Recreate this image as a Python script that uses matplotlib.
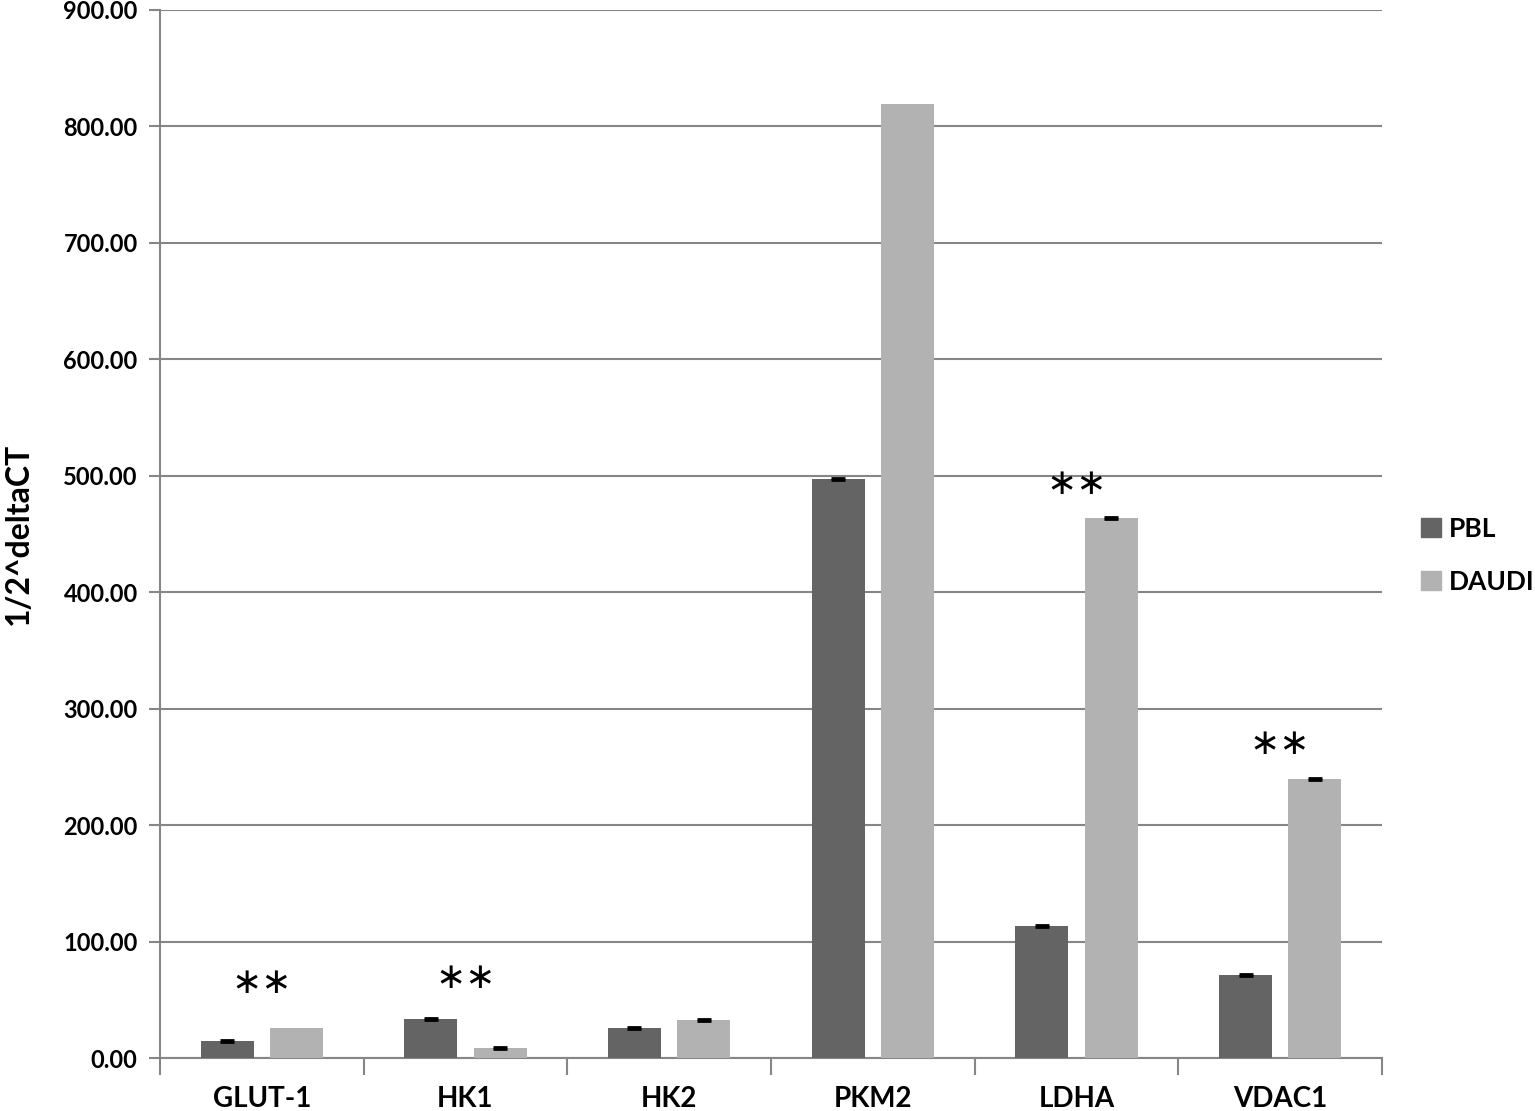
import matplotlib
matplotlib.use("Agg")
import matplotlib.pyplot as plt
import numpy as np
from matplotlib.patches import Patch

categories = ["GLUT-1", "HK1", "HK2", "PKM2", "LDHA", "VDAC1"]
pbl = [14.6, 33.5, 25.8, 497.0, 113.4, 71.3]
daudi = [26.0, 8.6, 32.6, 819.0, 463.8, 239.6]
pbl_err = [0.8, 0.8, 0.8, 0.8, 0.8, 0.8]
daudi_err = [0.0, 0.8, 0.8, 0.0, 0.8, 0.8]
sig_groups = [0, 1, 4, 5]
sig_y = [64, 69, 493, 270]
yticks = [0, 100, 200, 300, 400, 500, 600, 700, 800, 900]

plt.rcParams['font.family'] = ['Lato', 'DejaVu Sans']

fig = plt.figure(figsize=(15.35, 11.11), dpi=100)
ax = fig.add_axes([0.1042, 0.0477, 0.7961, 0.9433])

x = np.arange(len(categories))
w = 0.26
off = 0.17
c1, c2 = "#646464", "#b2b2b2"
ax.bar(x - off, pbl, w, color=c1, zorder=3)
ax.bar(x + off, daudi, w, color=c2, zorder=3)

for xs, vals, errs in [(x - off, pbl, pbl_err), (x + off, daudi, daudi_err)]:
    m = np.array(errs) > 0
    ax.errorbar(np.asarray(xs)[m], np.asarray(vals)[m], yerr=np.asarray(errs)[m], fmt='none',
                ecolor='black', capsize=5, capthick=2, elinewidth=1, zorder=4)

for g, yv in zip(sig_groups, sig_y):
    ax.text(g, yv, "∗∗", ha='center', va='center', fontsize=26, family='DejaVu Sans', color='black')

ax.set_xlim(-0.5, len(categories) - 0.5)
ax.set_ylim(0, 900)
ax.set_yticks(yticks)
ax.set_yticklabels([f"{v:.2f}" for v in yticks], fontsize=17, fontweight='bold')
ax.yaxis.grid(True, color="#868686", linewidth=1.5, zorder=0)
ax.set_axisbelow(True)

ax.set_xticks(x)
ax.set_xticklabels(categories, fontsize=20, fontweight='bold')
ax.tick_params(axis='x', which='major', length=0, pad=20)
ax.set_xticks(np.arange(-0.5, len(categories) + 0.5, 1), minor=True)
ax.tick_params(axis='x', which='minor', length=12, color="#868686", width=1.5)
ax.tick_params(axis='y', length=8, color="#868686", width=1.5, pad=8)

for s in ['top', 'right']:
    ax.spines[s].set_visible(False)
ax.spines['left'].set_color("#868686")
ax.spines['left'].set_linewidth(1.5)
ax.spines['bottom'].set_color("#868686")
ax.spines['bottom'].set_linewidth(1.5)

ax.set_ylabel("1/2^deltaCT", fontsize=23, fontweight='bold', labelpad=22)

handles = [Patch(color=c1, label="PBL"), Patch(color=c2, label="DAUDI")]
leg = fig.legend(handles=handles, loc='center left', bbox_to_anchor=(0.926, 0.5), frameon=False,
                 prop={'size': 19, 'weight': 'bold'}, handlelength=0.75, handleheight=0.75,
                 handletextpad=0.3, labelspacing=1.1, borderaxespad=0, borderpad=0)

fig.savefig("out.png", dpi=100)
